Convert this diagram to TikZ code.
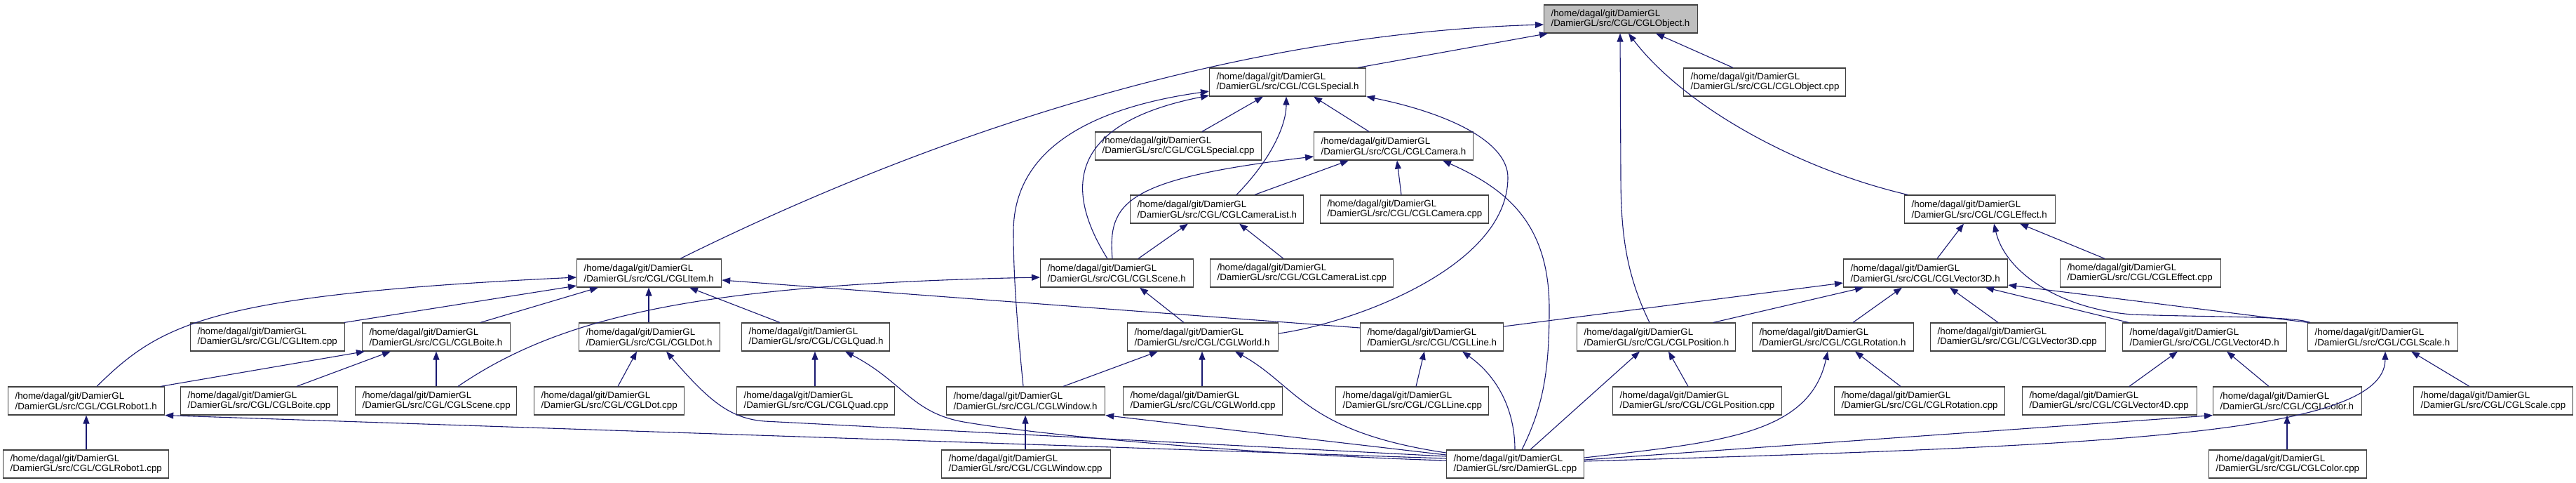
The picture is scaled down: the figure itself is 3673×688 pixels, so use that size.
\documentclass[tikz,border=0pt]{standalone}
\usepackage{fontspec}
\setmainfont{Liberation Sans}
\usetikzlibrary{arrows.meta}
\definecolor{edgecol}{HTML}{191970}
\newcommand{\dglpath}[1]{/home/dagal/git/DamierGL\\/DamierGL/src/CGL/#1}
\begin{document}
\begin{tikzpicture}[x=1pt,y=-1pt,
 box/.style={draw=black!75, line width=1.2pt, fill=white, minimum height=40pt, inner xsep=10pt, inner ysep=0pt, align=left, anchor=west, font=\fontsize{13.33}{14.6}\selectfont},
 edge/.style={draw=edgecol, line width=1.1pt, -{Triangle[length=12pt,width=9pt]}}]
\useasboundingbox (0,0) rectangle (3673,688);
% row 0
\node[box,text width=199pt,fill=black!25] (objh) at (2201,27) {\dglpath{CGLObject.h}};
% row 1
\node[box,text width=203pt] (spech) at (1724,117) {\dglpath{CGLSpecial.h}};
\node[box,text width=211pt] (objcpp) at (2400,117) {\dglpath{CGLObject.cpp}};
% row 2
\node[box,text width=217pt] (speccpp) at (1561,208) {\dglpath{CGLSpecial.cpp}};
\node[box,text width=207pt] (camh) at (1873,208) {\dglpath{CGLCamera.h}};
% row 3
\node[box,text width=227pt] (camlisth) at (1611,298) {\dglpath{CGLCameraList.h}};
\node[box,text width=220pt] (camcpp) at (1882,298) {\dglpath{CGLCamera.cpp}};
\node[box,text width=195pt] (effh) at (2715,298) {\dglpath{CGLEffect.h}};
% row 4
\node[box,text width=186pt] (itemh) at (822,389) {\dglpath{CGLItem.h}};
\node[box,text width=198pt] (sceneh) at (1483,389) {\dglpath{CGLScene.h}};
\node[box,text width=241pt] (camlistcpp) at (1725,389) {\dglpath{CGLCameraList.cpp}};
\node[box,text width=214pt] (vtdh) at (2628,389) {\dglpath{CGLVector3D.h}};
\node[box,text width=209pt] (effcpp) at (2937,389) {\dglpath{CGLEffect.cpp}};
% row 5
\node[box,text width=200pt] (itemcpp) at (271,480) {\dglpath{CGLItem.cpp}};
\node[box,text width=191pt] (boiteh) at (516,480) {\dglpath{CGLBoite.h}};
\node[box,text width=181pt] (doth) at (825,480) {\dglpath{CGLDot.h}};
\node[box,text width=191pt] (quadh) at (1057,480) {\dglpath{CGLQuad.h}};
\node[box,text width=195pt] (worldh) at (1607,480) {\dglpath{CGLWorld.h}};
\node[box,text width=184pt] (lineh) at (1939,480) {\dglpath{CGLLine.h}};
\node[box,text width=206pt] (posh) at (2248,480) {\dglpath{CGLPosition.h}};
\node[box,text width=210pt] (roth) at (2498,480) {\dglpath{CGLRotation.h}};
\node[box,text width=230pt] (vtdcpp) at (2752,480) {\dglpath{CGLVector3D.cpp}};
\node[box,text width=214pt] (vfdh) at (3026,480) {\dglpath{CGLVector4D.h}};
\node[box,text width=194pt] (scaleh) at (3290,480) {\dglpath{CGLScale.h}};
% row 6
\node[box,text width=203pt] (roboth) at (11,571) {\dglpath{CGLRobot1.h}};
\node[box,text width=204pt] (boitecpp) at (257,571) {\dglpath{CGLBoite.cpp}};
\node[box,text width=210pt] (scenecpp) at (506,571) {\dglpath{CGLScene.cpp}};
\node[box,text width=194pt] (dotcpp) at (761,571) {\dglpath{CGLDot.cpp}};
\node[box,text width=205pt] (quadcpp) at (1050,571) {\dglpath{CGLQuad.cpp}};
\node[box,text width=206pt] (windowh) at (1349,571) {\dglpath{CGLWindow.h}};
\node[box,text width=207pt] (worldcpp) at (1601,571) {\dglpath{CGLWorld.cpp}};
\node[box,text width=198pt] (linecpp) at (1904,571) {\dglpath{CGLLine.cpp}};
\node[box,text width=221pt] (poscpp) at (2299,571) {\dglpath{CGLPosition.cpp}};
\node[box,text width=223pt] (rotcpp) at (2615,571) {\dglpath{CGLRotation.cpp}};
\node[box,text width=229pt] (vfdcpp) at (2883,571) {\dglpath{CGLVector4D.cpp}};
\node[box,text width=192pt] (colorh) at (3155,571) {\dglpath{CGLColor.h}};
\node[box,text width=207pt] (scalecpp) at (3441,571) {\dglpath{CGLScale.cpp}};
% row 7
\node[box,text width=216pt] (robotcpp) at (4,661) {\dglpath{CGLRobot1.cpp}};
\node[box,text width=221pt] (windowcpp) at (1342,661) {\dglpath{CGLWindow.cpp}};
\node[box,text width=176pt] (damiercpp) at (2062,661) {/home/dagal/git/DamierGL\\/DamierGL/src/DamierGL.cpp};
\node[box,text width=205pt] (colorcpp) at (3149,661) {\dglpath{CGLColor.cpp}};

% ---- edges into CGLObject.h
\draw[edge] (itemh.north -| 970,0) .. controls (1250,230) and (1700,50) .. (objh.west |- 0,35);
\draw[edge] (spech.north -| 1936,0) -- (objh.south -| 2207,0);
\draw[edge] (posh.north -| 2352,0) .. controls (2318,390) and (2311,330) .. (2311,250) -- (objh.south -| 2310,0);
\draw[edge] (effh.north -| 2720,0) .. controls (2560,240) and (2400,150) .. (objh.south -| 2322,0);
\draw[edge] (objcpp.north -| 2471,0) -- (objh.south -| 2361,0);
% ---- edges into CGLSpecial.h
\draw[edge] (speccpp.north -| 1714,0) -- (spech.south -| 1801,0);
\draw[edge] (camh.north -| 1952,0) -- (spech.south -| 1873,0);
\draw[edge] (camlisth.north -| 1763,0) .. controls (1810,230) and (1834,180) .. (spech.south -| 1834,0);
\draw[edge] (worldh.east |- 0,475) .. controls (1930,460) and (2150,380) .. (2150,253) .. controls (2150,200) and (2060,160) .. (spech.south east);
\draw[edge] (windowh.north -| 1459,0) .. controls (1448,440) and (1445,380) .. (1445,330) .. controls (1445,200) and (1580,150) .. (spech.west |- 0,130);
\draw[edge] (sceneh.north -| 1579,0) .. controls (1530,290) and (1500,180) .. (spech.west |- 0,136);
% ---- edges into CGLCamera.h
\draw[edge] (camcpp.north -| 1998,0) -- (camh.south -| 1992,0);
\draw[edge] (camlisth.north -| 1789,0) -- (camh.south -| 1923,0);
\draw[edge] (sceneh.north -| 1586,0) .. controls (1580,290) and (1600,255) .. (camh.west |- 0,223);
\draw[edge] (damiercpp.north -| 2170,0) .. controls (2200,580) and (2209,530) .. (2209,440) .. controls (2209,320) and (2150,270) .. (camh.south -| 2057,0);
% ---- edges into CGLCameraList.h
\draw[edge] (sceneh.north -| 1623,0) -- (camlisth.south -| 1694,0);
\draw[edge] (camlistcpp.north -| 1830,0) -- (camlisth.south -| 1767,0);
% ---- edges into CGLEffect.h
\draw[edge] (vtdh.north -| 2762,0) -- (effh.south -| 2800,0);
\draw[edge] (scaleh.north -| 3294,0) .. controls (3270,450) and (3150,452) .. (3040,448) .. controls (2940,440) and (2860,390) .. (effh.south -| 2843,0);
\draw[edge] (effcpp.north -| 3001,0) -- (effh.south -| 2880,0);
% ---- edges into CGLVector3D.h
\draw[edge] (lineh.east |- 0,465) -- (vtdh.west |- 0,403);
\draw[edge] (posh.north -| 2443,0) -- (vtdh.south -| 2657,0);
\draw[edge] (roth.north -| 2642,0) -- (vtdh.south -| 2712,0);
\draw[edge] (vtdcpp.north -| 2849,0) -- (vtdh.south -| 2780,0);
\draw[edge] (vfdh.north -| 3035,0) -- (vtdh.south -| 2831,0);
\draw[edge] (scaleh.north -| 3291,0) -- (vtdh.east |- 0,406);
% ---- edges into CGLPosition.h / CGLRotation.h
\draw[edge] (poscpp.north -| 2407,0) -- (posh.south -| 2379,0);
\draw[edge] (damiercpp.north -| 2182,0) -- (posh.south -| 2338,0);
\draw[edge] (rotcpp.north -| 2710,0) -- (roth.south -| 2645,0);
\draw[edge] (damiercpp.east |- 0,652) .. controls (2450,630) and (2580,620) .. (roth.south -| 2606,0);
% ---- edges into CGLVector4D.h / CGLScale.h / CGLColor.h
\draw[edge] (vfdcpp.north -| 3036,0) -- (vfdh.south -| 3105,0);
\draw[edge] (colorh.north -| 3235,0) -- (vfdh.south -| 3175,0);
\draw[edge] (scalecpp.north -| 3521,0) -- (scaleh.south -| 3438,0);
\draw[edge] (damiercpp.east |- 0,657) .. controls (3000,635) and (3400,620) .. (scaleh.south -| 3401,0);
\draw[edge] (colorcpp.north -| 3261,0) -- (colorh.south -| 3261,0);
\draw[edge] (damiercpp.east |- 0,655) -- (colorh.south west);
% ---- edges into CGLItem.h
\draw[edge] (itemcpp.north -| 491,0) -- (itemh.west |- 0,407);
\draw[edge] (boiteh.north -| 685,0) -- (itemh.south -| 853,0);
\draw[edge] (doth.north -| 925,0) -- (itemh.south -| 925,0);
\draw[edge] (quadh.north -| 1112,0) -- (itemh.south -| 983,0);
\draw[edge] (lineh.west |- 0,467) -- (itemh.east |- 0,399);
\draw[edge] (roboth.north -| 138,0) .. controls (230,460) and (300,420) .. (itemh.west |- 0,395);
% ---- edges into CGLBoite.h / CGLScene.h
\draw[edge] (roboth.north -| 229,0) -- (boiteh.south -| 520,0);
\draw[edge] (boitecpp.north -| 423,0) -- (boiteh.south -| 557,0);
\draw[edge] (scenecpp.north -| 622,0) -- (boiteh.south -| 622,0);
\draw[edge] (scenecpp.north -| 653,0) .. controls (800,450) and (1000,405) .. (sceneh.west |- 0,395);
\draw[edge] (worldh.north -| 1688,0) -- (sceneh.south -| 1625,0);
% ---- edges into CGLDot.h / CGLQuad.h
\draw[edge] (dotcpp.north -| 881,0) -- (doth.south -| 908,0);
\draw[edge] (damiercpp.west |- 0,650) -- (1090,600) .. controls (1040,596) and (1010,570) .. (doth.south -| 950,0);
\draw[edge] (quadcpp.north -| 1162,0) -- (quadh.south -| 1162,0);
\draw[edge] (damiercpp.west |- 0,656) .. controls (1800,648) and (1500,622) .. (1380,602) .. controls (1300,590) and (1290,545) .. (quadh.south -| 1205,0);
% ---- edges into CGLWindow.h / CGLWorld.h / CGLLine.h / CGLRobot1.h
\draw[edge] (windowcpp.north -| 1462,0) -- (windowh.south -| 1462,0);
\draw[edge] (damiercpp.west |- 0,648) -- (windowh.south east);
\draw[edge] (windowh.north -| 1516,0) -- (worldh.south -| 1651,0);
\draw[edge] (worldcpp.north -| 1714,0) -- (worldh.south -| 1714,0);
\draw[edge] (damiercpp.west |- 0,645) .. controls (1860,615) and (1850,550) .. (worldh.south -| 1761,0);
\draw[edge] (linecpp.north -| 2019,0) -- (lineh.south -| 2031,0);
\draw[edge] (damiercpp.north -| 2160,0) .. controls (2160,590) and (2140,540) .. (lineh.south -| 2085,0);
\draw[edge] (robotcpp.north -| 123,0) -- (roboth.south -| 123,0);
\draw[edge] (damiercpp.west |- 0,653) -- (roboth.south east);
\end{tikzpicture}
\end{document}
